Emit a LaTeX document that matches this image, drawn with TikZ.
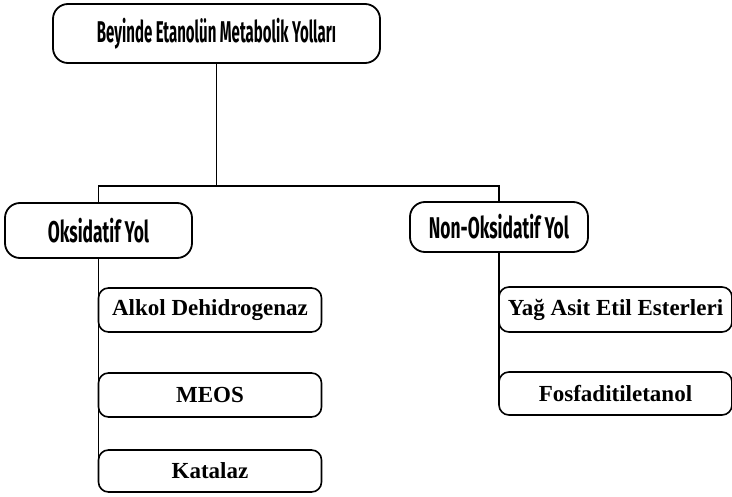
\documentclass[tikz,border=0pt]{standalone}
\usepackage{fontspec}
\setmainfont{Liberation Serif}
\newfontfamily\headfont[FakeStretch=0.5]{Fira Sans}
\newfontfamily\subfont[FakeStretch=0.58]{Fira Sans}

\begin{document}
\begin{tikzpicture}[x=1pt,y=-1pt,
  box/.style={draw,line width=1.8pt,rounded corners=15pt,inner sep=0pt,font=\subfont\bfseries\fontsize{30}{32}\selectfont},
  leaf/.style={draw,line width=1.6pt,rounded corners=10pt,inner sep=0pt,minimum width=223pt,font=\bfseries\fontsize{23}{25}\selectfont},
  link/.style={line width=1.5pt}]
\useasboundingbox (0,0) rectangle (732,497);
\node[box,minimum width=327pt,minimum height=59pt,font=\headfont\bfseries\fontsize{30}{32}\selectfont] (root) at (216.5,33.5) {Beyinde Etanolün Metabolik Yolları};
\node[box,minimum width=187pt,minimum height=55pt] (oks) at (98.5,230.5) {Oksidatif Yol};
\node[box,minimum width=178pt,minimum height=50pt] (nonoks) at (499,227) {Non-Oksidatif Yol};
\coordinate (bar) at (216.5,186);
\draw[link] (root.south) -- (bar) -| (oks.north);
\draw[link] (bar) -| (nonoks.north);
% Oksidatif Yol branches
\foreach \name/\txt/\y/\h in {alkol/Alkol Dehidrogenaz/310/44, meos/MEOS/395/44, kat/Katalaz/471/42}{\node[leaf,minimum height=\h pt] (\name) at (210,\y) {\txt}; \draw[link] (oks.south) |- (\name.west);};
% Non-Oksidatif Yol branches
\foreach \name/\txt/\y/\h in {yag/Yağ Asit Etil Esterleri/309.5/45, fosfa/Fosfaditiletanol/393.5/43}{\node[leaf,minimum width=233pt,minimum height=\h pt] (\name) at (615.5,\y) {\txt}; \draw[link] (nonoks.south) |- (\name.west);};
\end{tikzpicture}
\end{document}
